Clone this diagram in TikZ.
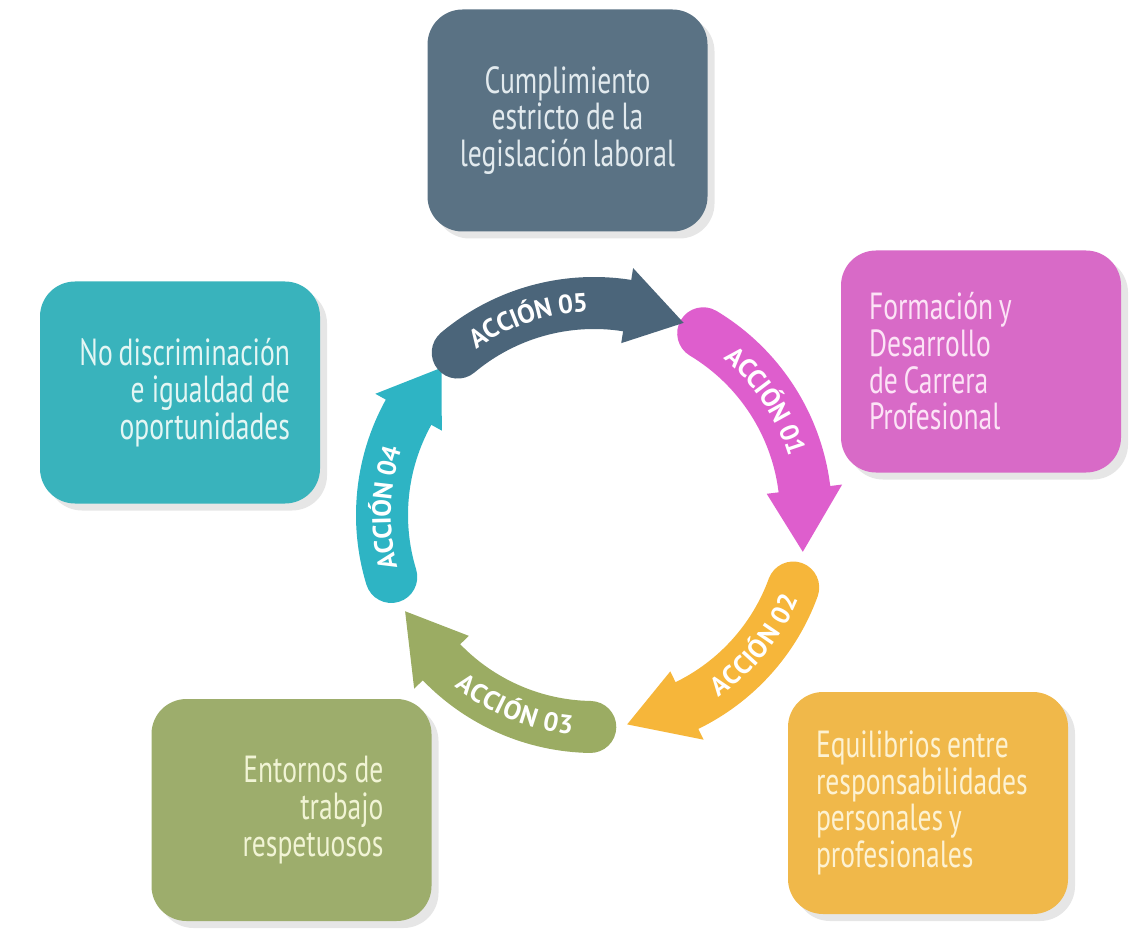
\documentclass[tikz,border=0pt]{standalone}
\usepackage{fontspec}
\usetikzlibrary{shadows,decorations.text}
\newfontfamily\boxfam{PT Sans}[FakeStretch=0.73]
\newfontfamily\accfam{PT Sans}
\newcommand\labfont{\accfam\bfseries\fontsize{15}{15}\selectfont}
\definecolor{slate}{HTML}{5A7284}
\definecolor{slatetxt}{HTML}{E2EAEE}
\definecolor{rosa}{HTML}{D86AC7}
\definecolor{rosatxt}{HTML}{FCE3F6}
\definecolor{turq}{HTML}{39B3BC}
\definecolor{turqtxt}{HTML}{E4F6F4}
\definecolor{oliva}{HTML}{9DAD6C}
\definecolor{olivatxt}{HTML}{F1F4D5}
\definecolor{ambar}{HTML}{F0B84A}
\definecolor{ambartxt}{HTML}{FDF2D2}
\definecolor{a01}{HTML}{DE5ECD}
\definecolor{a02}{HTML}{F6B63A}
\definecolor{a03}{HTML}{9BAC63}
\definecolor{a04}{HTML}{2EB4C4}
\definecolor{a05}{HTML}{4B657A}
\begin{document}
\begin{tikzpicture}[
	caja/.style={rounded corners=0.7cm, minimum width=5.6cm, minimum height=4.44cm,
		text width=4.48cm, inner xsep=0.56cm, inner ysep=0pt,
		drop shadow={shadow xshift=0.14cm, shadow yshift=-0.14cm, opacity=0.2},
		font=\boxfam\fontsize{21.5}{20.9}\selectfont,
		execute at begin node={\spaceskip=0.15em plus 0.05em\xspaceskip=0.15em\relax}}]
	\useasboundingbox (0,0) rectangle (22.84,18.58);
	\coordinate (c) at (11.88,8.28);
	% flechas del ciclo: color, cola, base de la punta, punta, texto desde, texto hasta
	\foreach \col/\ini/\base/\tip/\ts/\te/\lab in {
		a04/197/151/136/215/141/ACCIÓN 04,
		a03/-91/-136/-153/-150/-75/ACCIÓN 03,
		a02/-20/-64/-81/-75/-3/ACCIÓN 02,
		a01/59/7/-10/70/-3/ACCIÓN 01,
		a05/130/81/65/145/72/ACCIÓN 05}
	{
		\fill[\col, shift={(c)}] (\ini:4.76) arc[start angle=\ini, end angle=\base, radius=4.76]
			-- (\base:5.0) -- (\tip:4.24) -- (\base:3.48) -- (\base:3.72)
			arc[start angle=\base, end angle=\ini, radius=3.72]
			arc[start angle=\ini+180, end angle=\ini, radius=0.52] -- cycle;
		\labfont
		\path[shift={(c)}, decorate, decoration={text along path, text align=center,
			text color=white, raise=-5pt, text/.expanded=\lab}]
			(\ts:4.24) arc[start angle=\ts, end angle=\te, radius=4.24];
	}
	% cajas
	\node[caja, fill=slate, text=slatetxt, align=center] (legislacion) at (11.35,16.17)
		{Cumplimiento\\estricto de la\\legislación laboral};
	\node[caja, fill=rosa, text=rosatxt, align=left] (formacion) at (19.62,11.35)
		{Formación y\\Desarrollo\\de Carrera\\Profesional};
	\node[caja, fill=turq, text=turqtxt, align=right, text width=4.4cm] (igualdad) at (3.60,10.73)
		{No discriminación\\e igualdad de\\oportunidades};
	\node[caja, fill=oliva, text=olivatxt, align=right, text width=3.68cm] (entornos) at (5.83,2.38)
		{Entornos de\\trabajo\\respetuosos};
	\node[caja, fill=ambar, text=ambartxt, align=left] (equilibrios) at (18.56,2.52)
		{Equilibrios entre\\responsabilidades\\personales y\\profesionales};
\end{tikzpicture}
\end{document}
